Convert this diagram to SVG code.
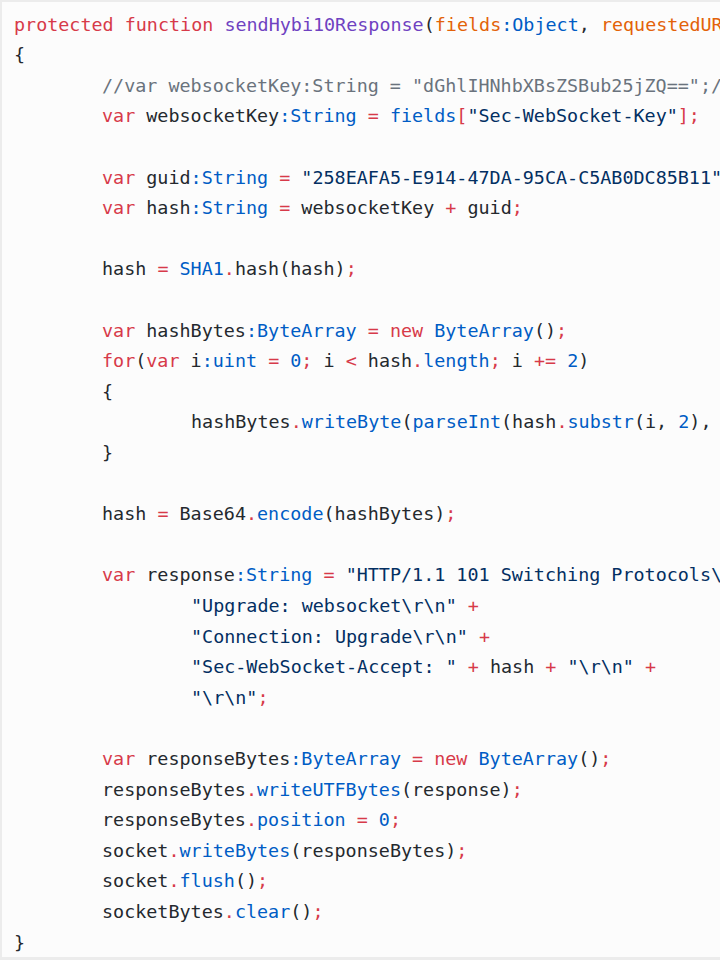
<svg xmlns="http://www.w3.org/2000/svg" width="720" height="960" viewBox="0 0 720 960">
<style>
text{font-family:"DejaVu Sans Mono","Liberation Mono",monospace;font-size:18.4px;fill:#24292e;white-space:pre}
.k{fill:#d73a49}.f{fill:#6f42c1}.p{fill:#e36209}.t{fill:#005cc5}.s{fill:#032f62}.c{fill:#6a737d}
</style>
<rect x="0" y="0" width="720" height="960" fill="#ececec"/>
<rect x="2" y="2" width="718" height="955" fill="#fcfcfc"/>
<g id="code" transform="translate(0,1.5)">
<text x="14" y="29"><tspan class="k">protected function</tspan> <tspan class="f">sendHybi10Response</tspan>(<tspan class="p">fields</tspan><tspan class="t">:Object</tspan>, <tspan class="p">requestedUR</tspan></text>
<text x="14" y="59.6">{</text>
<text x="102" y="90.2" class="c">//var websocketKey:String = "dGhlIHNhbXBsZSBub25jZQ==";/</text>
<text x="102" y="120.8"><tspan class="k">var</tspan> websocketKey<tspan class="t">:String</tspan> <tspan class="k">=</tspan> <tspan class="t">fields</tspan><tspan class="k">[</tspan><tspan class="s">"Sec-WebSocket-Key"</tspan><tspan class="k">];</tspan></text>
<text x="102" y="182"><tspan class="k">var</tspan> guid<tspan class="t">:String</tspan> <tspan class="k">=</tspan> <tspan class="s">"258EAFA5-E914-47DA-95CA-C5AB0DC85B11"</tspan></text>
<text x="102" y="212.6"><tspan class="k">var</tspan> hash<tspan class="t">:String</tspan> <tspan class="k">=</tspan> websocketKey <tspan class="k">+</tspan> guid<tspan class="k">;</tspan></text>
<text x="102" y="273.8">hash <tspan class="k">=</tspan> <tspan class="t">SHA1</tspan><tspan class="k">.</tspan>hash(hash)<tspan class="k">;</tspan></text>
<text x="102" y="335"><tspan class="k">var</tspan> hashBytes<tspan class="t">:ByteArray</tspan> <tspan class="k">=</tspan> <tspan class="k">new</tspan> <tspan class="t">ByteArray</tspan>()<tspan class="k">;</tspan></text>
<text x="102" y="365.6"><tspan class="k">for</tspan>(<tspan class="k">var</tspan> i<tspan class="t">:uint</tspan> <tspan class="k">=</tspan> <tspan class="t">0</tspan><tspan class="k">;</tspan> i <tspan class="k">&lt;</tspan> hash<tspan class="k">.</tspan><tspan class="t">length</tspan><tspan class="k">;</tspan> i <tspan class="k">+=</tspan> <tspan class="t">2</tspan>)</text>
<text x="102" y="396.2">{</text>
<text x="191" y="426.8">hashBytes<tspan class="k">.</tspan><tspan class="t">writeByte</tspan>(<tspan class="t">parseInt</tspan>(hash<tspan class="k">.</tspan><tspan class="t">substr</tspan>(i, <tspan class="t">2</tspan>),</text>
<text x="102" y="457.4">}</text>
<text x="102" y="518.6">hash <tspan class="k">=</tspan> Base64<tspan class="k">.</tspan><tspan class="t">encode</tspan>(hashBytes)<tspan class="k">;</tspan></text>
<text x="102" y="579.8"><tspan class="k">var</tspan> response<tspan class="t">:String</tspan> <tspan class="k">=</tspan> <tspan class="s">"HTTP/1.1 101 Switching Protocols\</tspan></text>
<text x="191" y="610.4"><tspan class="s">"Upgrade: websocket\r\n"</tspan> <tspan class="k">+</tspan></text>
<text x="191" y="641"><tspan class="s">"Connection: Upgrade\r\n"</tspan> <tspan class="k">+</tspan></text>
<text x="191" y="671.6"><tspan class="s">"Sec-WebSocket-Accept: "</tspan> <tspan class="k">+</tspan> hash <tspan class="k">+</tspan> <tspan class="s">"\r\n"</tspan> <tspan class="k">+</tspan></text>
<text x="191" y="702.2"><tspan class="s">"\r\n"</tspan><tspan class="k">;</tspan></text>
<text x="102" y="763.4"><tspan class="k">var</tspan> responseBytes<tspan class="t">:ByteArray</tspan> <tspan class="k">=</tspan> <tspan class="k">new</tspan> <tspan class="t">ByteArray</tspan>()<tspan class="k">;</tspan></text>
<text x="102" y="794">responseBytes<tspan class="k">.</tspan><tspan class="t">writeUTFBytes</tspan>(response)<tspan class="k">;</tspan></text>
<text x="102" y="824.6">responseBytes<tspan class="k">.</tspan><tspan class="t">position</tspan> <tspan class="k">=</tspan> <tspan class="t">0</tspan><tspan class="k">;</tspan></text>
<text x="102" y="855.2">socket<tspan class="k">.</tspan><tspan class="t">writeBytes</tspan>(responseBytes)<tspan class="k">;</tspan></text>
<text x="102" y="885.8">socket<tspan class="k">.</tspan><tspan class="t">flush</tspan>()<tspan class="k">;</tspan></text>
<text x="102" y="916.4">socketBytes<tspan class="k">.</tspan><tspan class="t">clear</tspan>()<tspan class="k">;</tspan></text>
<text x="14" y="947">}</text>
</g>
</svg>
